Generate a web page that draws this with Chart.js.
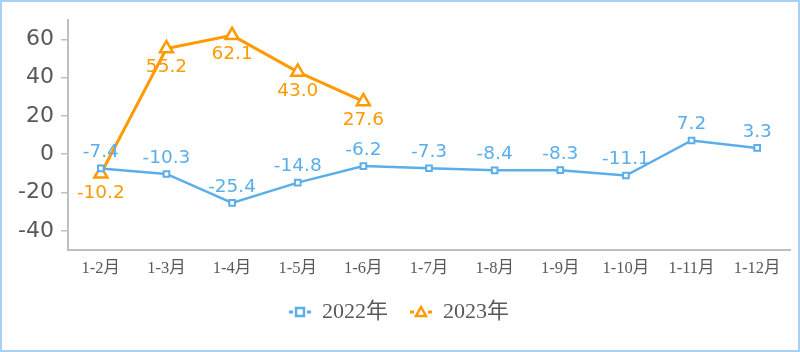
<!DOCTYPE html>
<html>
<head>
<meta charset="utf-8">
<script src="https://cdn.jsdelivr.net/npm/chart.js@4/dist/chart.umd.min.js"></script>
<style>
  html, body { margin: 0; padding: 0; background: #fff; }
  #wrap { width: 800px; height: 352px; box-sizing: border-box; border: 2px solid #a9d1f5; position: relative; }
  #c { position: absolute; left: -2px; top: -2px; }
</style>
</head>
<body>
<div id="wrap"><canvas id="c" width="800" height="352"></canvas></div>
<script>
  // categories and values
  var months = ["1-2月", "1-3月", "1-4月", "1-5月", "1-6月", "1-7月", "1-8月", "1-9月", "1-10月", "1-11月", "1-12月"];
  var values2022 = [-7.4, -10.3, -25.4, -14.8, -6.2, -7.3, -8.4, -8.3, -11.1, 7.2, 3.3];
  var values2023 = [-10.2, 55.2, 62.1, 43.0, 27.6];
  var yTicks = [-40, -20, 0, 20, 40, 60];

  var BLUE = "#5aaeea";
  var ORANGE = "#ff9a00";

  // value labels above (2022) / below (2023) each point
  var valueLabels = {
    id: "valueLabels",
    afterDatasetsDraw: function(chart) {
      var ctx = chart.ctx;
      ctx.save();
      ctx.font = "18.5px 'DejaVu Sans'";
      ctx.textAlign = "center";
      ctx.textBaseline = "middle";
      chart.data.datasets.forEach(function(ds, di) {
        var meta = chart.getDatasetMeta(di);
        ctx.fillStyle = ds.borderColor;
        meta.data.forEach(function(pt, i) {
          var off = di === 0 ? -16 : 19;
          ctx.fillText(ds.data[i].toFixed(1), pt.x, pt.y + off);
        });
      });
      ctx.restore();
    }
  };

  // legend drawn by hand: marker with short line stubs
  var legendDraw = {
    id: "legendDraw",
    afterDraw: function(chart) {
      var ctx = chart.ctx;
      var y = 312;
      ctx.save();
      chart.data.datasets.forEach(function(ds, di) {
        var x = di === 0 ? 300 : 421;
        ctx.strokeStyle = ds.borderColor;
        ctx.lineWidth = 3;
        ctx.beginPath();
        ctx.moveTo(x - 11, y); ctx.lineTo(x - 7, y);
        ctx.moveTo(x + 7, y); ctx.lineTo(x + 11, y);
        ctx.stroke();
        ctx.fillStyle = "#fff";
        ctx.lineWidth = 2.5;
        if (di === 0) {
          ctx.fillRect(x - 4, y - 4, 8, 8);
          ctx.strokeRect(x - 4, y - 4, 8, 8);
        } else {
          ctx.beginPath();
          ctx.moveTo(x, y - 5); ctx.lineTo(x + 5, y + 4); ctx.lineTo(x - 5, y + 4); ctx.closePath();
          ctx.fill(); ctx.stroke();
        }
        ctx.fillStyle = "#595959";
        ctx.font = "22px 'Liberation Serif', 'Noto Sans CJK SC'";
        ctx.textAlign = "left";
        ctx.textBaseline = "middle";
        ctx.fillText(ds.label, x + 22, y);
      });
      ctx.restore();
    }
  };

  new Chart(document.getElementById("c"), {
    type: "line",
    data: {
      labels: months,
      datasets: [
        {
          label: "2022年",
          data: values2022,
          borderColor: BLUE,
          backgroundColor: "#fff",
          borderWidth: 2.5,
          pointStyle: "rect",
          pointRadius: 4,
          pointBorderWidth: 2,
          tension: 0
        },
        {
          label: "2023年",
          data: values2023,
          borderColor: ORANGE,
          backgroundColor: "#fff",
          borderWidth: 3,
          pointStyle: "triangle",
          pointRadius: 7.5,
          pointBorderWidth: 2.5,
          tension: 0
        }
      ]
    },
    options: {
      responsive: false,
      animation: false,
      layout: { padding: { left: 0, right: 7, top: 19, bottom: 0 } },
      plugins: { legend: { display: false }, tooltip: { enabled: false } },
      scales: {
        x: {
          offset: true,
          grid: { display: false, drawTicks: false },
          border: { color: "#bfbfbf", width: 2 },
          ticks: {
            color: "#595959",
            padding: 9,
            font: { family: "'Liberation Serif', 'Noto Sans CJK SC'", size: 16.5 }
          },
          afterFit: function(s) { s.height = 102; }
        },
        y: {
          min: -50,
          max: 70,
          afterBuildTicks: function(s) { s.ticks = yTicks.map(function(v) { return { value: v }; }); },
          grid: { drawOnChartArea: false, tickLength: 7, color: "#bfbfbf", lineWidth: 1.5 },
          border: { color: "#bfbfbf", width: 2 },
          ticks: {
            color: "#595959",
            padding: 7,
            font: { family: "'DejaVu Sans'", size: 22 }
          },
          afterFit: function(s) { s.width = 68; }
        }
      }
    },
    plugins: [valueLabels, legendDraw]
  });
</script>
</body>
</html>
